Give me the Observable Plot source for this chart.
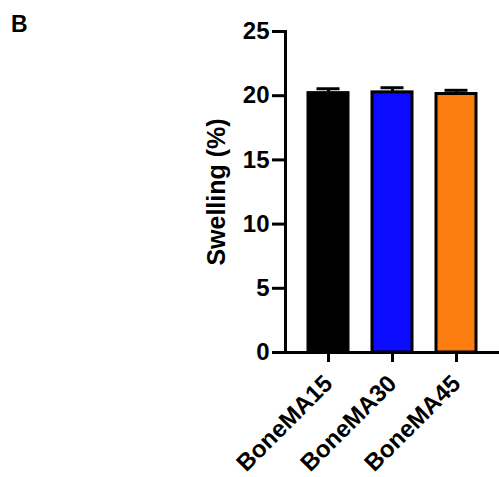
<!DOCTYPE html>
<html>
<head>
<meta charset="utf-8">
<script src="https://cdn.jsdelivr.net/npm/d3@7"></script>
<script src="https://cdn.jsdelivr.net/npm/@observablehq/plot@0.6"></script>
<style>
  body { margin: 0; background: #fff; }
  #wrap { position: relative; width: 499px; height: 477px; }
  #panel { position: absolute; left: 11px; top: 13px; font: bold 23px "Liberation Sans", Arial, sans-serif; color: #000; line-height: 1; }
</style>
</head>
<body>
<div id="wrap"><div id="panel">B</div></div>
<script>
const groups = ["BoneMA15", "BoneMA30", "BoneMA45"];
const means = [20.2, 20.26, 20.13];
const errors = [0.34, 0.36, 0.29];
const colors = ["#000000", "#0b0bff", "#fb7d10"];
const yTicks = [0, 5, 10, 15, 20, 25];
const yLabel = "Swelling (%)";

const data = groups.map((g, i) => ({group: g, mean: means[i], hi: means[i] + errors[i], color: colors[i]}));

const chart = Plot.plot({
  width: 499,
  height: 477,
  marginLeft: 285,
  marginRight: 0,
  marginTop: 31,
  marginBottom: 125,
  style: {fontFamily: "'Liberation Sans', Arial, sans-serif", fontWeight: "bold", color: "#000", background: "transparent"},
  x: {domain: groups, paddingInner: 0.38, paddingOuter: 0.35},
  y: {domain: [0, 25]},
  marks: [
    Plot.ruleX(data, {x: "group", y1: "mean", y2: "hi", stroke: "#000", strokeWidth: 3}),
    Plot.tickY(data, {x: "group", y: "hi", stroke: "#000", strokeWidth: 3, insetLeft: 8.5, insetRight: 8.5}),
    Plot.barY(data, {x: "group", y: "mean", fill: "color", stroke: "#000", strokeWidth: 3}),
    Plot.axisY({ticks: yTicks, tickSize: 13, tickPadding: 3, fontSize: 24, fontWeight: "bold", strokeWidth: 3, label: null}),
    Plot.text([yLabel], {frameAnchor: "left", textAnchor: "middle", lineAnchor: "middle", rotate: -90, dx: -69, fontSize: 25, fontWeight: "bold", fill: "#000"}),
    Plot.frame({anchor: "left", stroke: "#000", strokeWidth: 3}),
    Plot.ruleY([0], {stroke: "#000", strokeWidth: 3}),
    Plot.axisX({tickSize: 10, strokeWidth: 3, tickRotate: -45, fontSize: 24, fontWeight: "bold", tickPadding: 17, label: null})
  ]
});
chart.style.position = "absolute";
chart.style.left = "0";
chart.style.top = "0";
document.getElementById("wrap").appendChild(chart);
</script>
</body>
</html>
